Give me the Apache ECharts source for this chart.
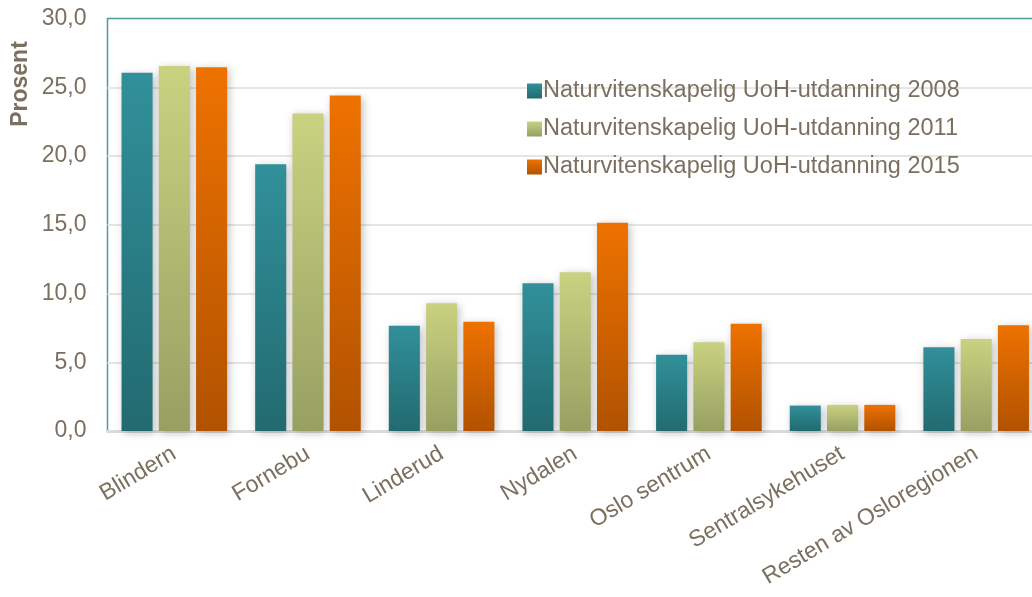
<!DOCTYPE html>
<html><head><meta charset="utf-8">
<script src="https://cdn.jsdelivr.net/npm/echarts@6/dist/echarts.min.js"></script>
<style>html,body{margin:0;padding:0;background:#fff}#c{width:1032px;height:597px}</style>
</head><body><div id="c"></div>
<script>
const categories = ['Blindern','Fornebu','Linderud','Nydalen','Oslo sentrum','Sentralsykehuset','Resten av Osloregionen'];
const seriesNames = ['Naturvitenskapelig UoH-utdanning 2008','Naturvitenskapelig UoH-utdanning 2011','Naturvitenskapelig UoH-utdanning 2015'];
const values2008 = [26.05, 19.4, 7.65, 10.75, 5.55, 1.85, 6.1];
const values2011 = [26.55, 23.1, 9.3, 11.55, 6.45, 1.9, 6.7];
const values2015 = [26.45, 24.4, 7.95, 15.15, 7.8, 1.9, 7.7];
const yTicks = [0,5,10,15,20,25,30];
const yAxisTitle = 'Prosent';

const txt = '#7b6f5f';
const FONT = 'Liberation Sans, Arial, sans-serif';
function grad(top, bottom){
  return new echarts.graphic.LinearGradient(0,0,0,1,[{offset:0,color:top},{offset:1,color:bottom}]);
}
const tops = ['#31909a','#c9d280','#ee7200'];
const bottoms = ['#226a70','#97a062','#b15200'];
const data = [values2008, values2011, values2015];

const chart = echarts.init(document.getElementById('c'), null, {renderer:'canvas'});
chart.setOption({
  animation:false,
  backgroundColor:'#fff',
  grid:{left:107.5, right:-11, top:18.5, bottom:166, show:true, borderColor:'#4d9a9f', borderWidth:1.5,
        containLabel:false, outerBoundsMode:'none'},
  legend:{
    orient:'vertical', left:522, top:74, itemWidth:15, itemHeight:15, itemGap:14,
    icon:'rect',
    textStyle:{color:txt, fontSize:23.5, fontFamily:FONT, padding:[0,0,0,-4]},
    data: seriesNames.map((n,i)=>({name:n, itemStyle:{color:grad(tops[i], bottoms[i])}}))
  },
  graphic:[{
    type:'text', x:21, y:84, rotation:Math.PI/2,
    style:{text:yAxisTitle, fill:txt, font:'bold 23px ' + FONT, textAlign:'center', textVerticalAlign:'middle'}
  }],
  xAxis:{
    type:'category', data:categories,
    axisLine:{show:true, lineStyle:{color:'#d8dcda', width:3}},
    axisTick:{show:false},
    axisLabel:{rotate:31, color:txt, fontSize:23, fontFamily:FONT, margin:21, interval:0}
  },
  yAxis:{
    type:'value', min:0, max:30, interval:5,
    axisLine:{show:false}, axisTick:{show:false},
    splitLine:{showMaxLine:false, lineStyle:{color:'#e6e6e1', width:2}},
    axisLabel:{color:txt, fontSize:23, fontFamily:FONT, margin:21,
      formatter:v=> yTicks.includes(v) ? v.toFixed(1).replace('.',',') : ''}
  },
  series: seriesNames.map((n,i)=>({
    name:n, type:'bar', data:data[i], barGap:'20%', barCategoryGap:'21%',
    itemStyle:{color:grad(tops[i], bottoms[i]), shadowColor:'rgba(0,0,0,0.25)', shadowBlur:8, shadowOffsetX:2, shadowOffsetY:2}
  }))
});
</script></body></html>
